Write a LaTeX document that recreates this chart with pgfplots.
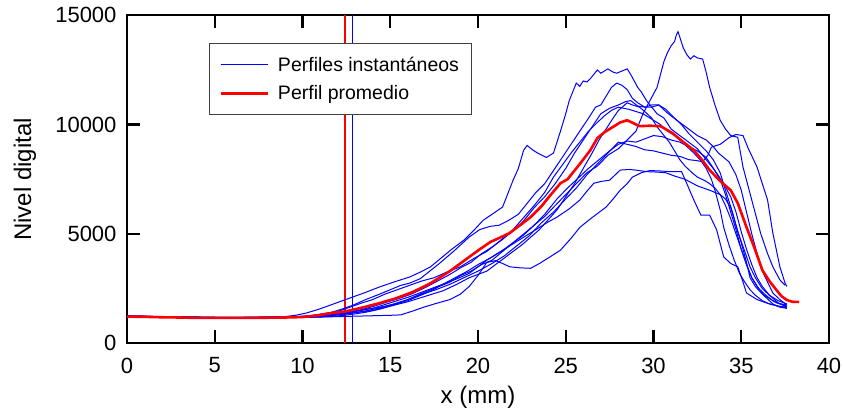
\documentclass[border=0pt]{standalone}
\usepackage{fontspec}
\setmainfont{Liberation Sans}
\usepackage{pgfplots}
\pgfplotsset{compat=1.18}
\definecolor{pblue}{RGB}{0,0,255}
\definecolor{pred}{RGB}{255,0,0}
\begin{document}
\begin{tikzpicture}
\begin{axis}[
  scale only axis, width=702pt, height=328pt,
  xmin=0, xmax=40, ymin=0, ymax=15000,
  xtick={0,5,...,40}, ytick={0,5000,10000,15000},
  tick align=inside, major tick length=13pt,
  axis line style={line width=2.4pt},
  every tick/.style={black, line width=2.4pt},
  tick label style={font=\fontsize{22}{26}\selectfont},
  /pgf/number format/assume math mode=true,
  /pgf/number format/set thousands separator={},
  scaled ticks=false,
  xticklabel style={yshift=-11pt},
  yticklabel style={xshift=-7pt},
  xlabel={x (mm)}, ylabel={Nivel digital},
  every axis x label/.style={at={(axis description cs:0.5,-0.1636)}, anchor=center, font=\fontsize{24}{28}\selectfont},
  every axis y label/.style={at={(axis description cs:-0.1453,0.5)}, anchor=center, rotate=90, font=\fontsize{24}{28}\selectfont},
  legend style={at={(axis description cs:0.1168,0.9147)}, anchor=north west,
    draw=black!75, line width=0.8pt, font=\fontsize{19.5}{23}\selectfont,
    cells={anchor=west}, inner xsep=10pt, inner ysep=11pt, row sep=9pt, column sep=7pt},
  legend image code/.code={\draw[#1] (0pt,0pt) -- (47pt,0pt);},
]
% vertical markers
\addplot[pred, line width=1.5pt, forget plot] coordinates {(12.42,0) (12.42,15000)};
\addplot[pblue, line width=1.5pt, forget plot] coordinates {(12.84,0) (12.84,15000)};

% P1 tall peak
\addplot[pblue, line width=1pt] coordinates {(0,1260)(0.8,1240)(1.6,1230)(2.5,1210)(3.3,1200)(4.2,1190)(5,1180)(5.8,1190)(6.7,1180)(7.5,1190)(8.3,1200)(9.2,1220)(10,1240)(10.7,1280)(11.4,1330)(12,1380)(12.7,1450)(13.3,1520)(14,1600)(14.6,1680)(15.3,1800)(16,1950)(16.6,2150)(17.2,2350)(17.8,2600)(18.4,2800)(19,3100)(19.6,3300)(20.2,3600)(20.8,3800)(21.4,4200)(22,4600)(22.6,5000)(23.2,5400)(23.8,5800)(24.4,6300)(25,6800)(25.6,7300)(26.2,7800)(26.8,8100)(27.4,8600)(28,8900)(28.5,9300)(29,9700)(29.4,10500)(29.8,11100)(30.2,11700)(30.4,12300)(30.6,12900)(30.8,13300)(31,13600)(31.2,13800)(31.3,14100)(31.4,14250)(31.5,14000)(31.7,13500)(31.9,13200)(32.1,13000)(32.3,13150)(32.5,13050)(32.8,13000)(33,12400)(33.2,11700)(33.5,10900)(33.8,10200)(34.1,9800)(34.4,9500)(34.8,9420)(35.1,8060)(35.6,6550)(36.1,5040)(36.5,4100)(36.8,3500)(37.2,2900)(37.5,2650)};
\addlegendentry{Perfiles instantáneos}

% P2
\addplot[pblue, line width=1pt, forget plot] coordinates {(0,1240)(0.8,1230)(1.6,1220)(2.5,1200)(3.3,1190)(4.2,1180)(5,1170)(5.8,1180)(6.7,1180)(7.5,1190)(8.3,1200)(9,1220)(9.6,1280)(10.2,1380)(10.9,1550)(11.6,1750)(12.7,2070)(13.5,2300)(14.4,2580)(15.2,2800)(16.1,3030)(16.7,3250)(17.3,3500)(17.9,3900)(18.5,4300)(19.2,4720)(19.8,5200)(20.3,5630)(20.8,5900)(21.4,6230)(22,7460)(22.3,8000)(22.6,8830)(22.8,9050)(23.1,8850)(23.4,8700)(23.9,8500)(24.3,8700)(24.7,9700)(25,10500)(25.2,11100)(25.6,11900)(25.8,11750)(26,12000)(26.2,11950)(26.4,12100)(26.6,12300)(26.8,12500)(27,12350)(27.2,12450)(27.4,12550)(27.7,12400)(27.9,12350)(28.2,12450)(28.5,12550)(28.7,12300)(28.9,12000)(29.1,11700)(29.3,11500)(29.6,11100)(30.2,10500)(30.6,10300)(31,9800)(31.5,9500)(32,9200)(32.5,8900)(33,8400)(33.4,8000)(33.8,7500)(34.1,6800)(34.4,6000)(34.7,5200)(35,4300)(35.3,3600)(35.6,3000)(36,2500)(36.4,2200)(36.8,1950)(37.2,1800)(37.6,1700)};

% P3
\addplot[pblue, line width=1pt, forget plot] coordinates {(0,1220)(0.8,1220)(1.6,1210)(2.5,1200)(3.3,1190)(4.2,1180)(5,1180)(5.8,1170)(6.7,1180)(7.5,1180)(8.3,1190)(9.2,1200)(10,1210)(10.8,1280)(11.6,1400)(12.3,1580)(12.9,1750)(13.6,2000)(14.4,2250)(15,2450)(15.6,2650)(16.1,2750)(16.7,2950)(17.8,3650)(18.6,4200)(19.5,4860)(20.1,5200)(20.7,5350)(21.2,5400)(21.7,5600)(22.3,5900)(22.8,6400)(23.3,6900)(23.8,7300)(24.3,7900)(24.8,8500)(25.3,9100)(25.8,9700)(26.3,10300)(26.7,10800)(27,10900)(27.3,11300)(27.6,11700)(27.9,11900)(28.2,11800)(28.5,11600)(28.8,11200)(29.1,11000)(29.5,10800)(29.9,10800)(30.3,10900)(30.7,10700)(31.2,10300)(31.6,10000)(32,9600)(32.5,9200)(33,8800)(33.4,8400)(33.8,7800)(34.1,7000)(34.5,6000)(34.8,5100)(35.2,4200)(35.5,3500)(35.8,3000)(36.2,2500)(36.6,2200)(37.1,1950)(37.6,1800)};

% P4
\addplot[pblue, line width=1pt, forget plot] coordinates {(0,1250)(0.8,1240)(1.6,1220)(2.5,1210)(3.3,1200)(4.2,1190)(5,1180)(5.8,1180)(6.7,1170)(7.5,1180)(8.3,1190)(9.2,1200)(10,1200)(10.8,1240)(11.6,1300)(12.4,1380)(13.2,1500)(14,1680)(14.8,1880)(15.5,2050)(16.2,2250)(17,2550)(17.7,2850)(18.4,3150)(19,3450)(19.6,3700)(20.2,4100)(20.8,4400)(21.4,4750)(22,5150)(22.6,5600)(23.2,6200)(23.8,6700)(24.4,7300)(25,8000)(25.5,8700)(26,9300)(26.5,9900)(27,10500)(27.5,10750)(28,10900)(28.4,11050)(28.7,11100)(29.1,10850)(29.5,10800)(29.9,10900)(30.3,10900)(30.7,10600)(31,10400)(31.5,10100)(32,9800)(32.5,9500)(33,9300)(33.4,9000)(33.7,8700)(34,8500)(34.3,8300)(34.7,7700)(35,7000)(35.3,6000)(35.6,5000)(35.9,4100)(36.2,3300)(36.5,2800)(36.8,2300)(37.2,2000)(37.6,1750)};

% P5
\addplot[pblue, line width=1pt, forget plot] coordinates {(0,1200)(0.8,1210)(1.6,1200)(2.5,1190)(3.3,1180)(4.2,1170)(5,1170)(5.8,1160)(6.7,1170)(7.5,1170)(8.3,1180)(9.2,1180)(10,1180)(11,1200)(12,1250)(12.8,1320)(13.6,1420)(14.4,1560)(15.2,1750)(16,2000)(16.7,2250)(17.4,2480)(18,2700)(18.7,3000)(19.4,3300)(20,3600)(20.7,3900)(21.4,4250)(22,4600)(22.6,4950)(23.2,5400)(23.8,5900)(24.5,6600)(25.1,7100)(25.7,7550)(26.3,8000)(26.9,8400)(27.5,8800)(28,9100)(28.5,9250)(29,9200)(29.5,9350)(30,9500)(30.5,9450)(31,9300)(31.5,9200)(32,9000)(32.5,8800)(33,8500)(33.5,7900)(34,7300)(34.4,6700)(34.7,6000)(35,5100)(35.3,4300)(35.6,3600)(35.9,3000)(36.2,2600)(36.6,2200)(37.1,1850)(37.6,1650)};

% P6
\addplot[pblue, line width=1pt, forget plot] coordinates {(0,1210)(0.8,1220)(1.6,1210)(2.5,1200)(3.3,1190)(4.2,1180)(5,1170)(5.8,1180)(6.7,1170)(7.5,1180)(8.3,1190)(9.2,1190)(10,1200)(11,1240)(12,1300)(12.8,1380)(13.6,1480)(14.4,1620)(15.2,1800)(16,2000)(16.8,2250)(17.6,2450)(18.4,2700)(19.2,3000)(20,3300)(20.8,3650)(21.5,4000)(22.2,4450)(22.9,4900)(23.6,5500)(24.3,6000)(25,6600)(25.6,7100)(26.2,7700)(26.8,8200)(27.4,8700)(28,9200)(28.5,9100)(29,9000)(29.5,8850)(30,8800)(30.5,8700)(31,8600)(31.5,8550)(32,8400)(32.5,8350)(32.8,8300)(33.1,8600)(33.3,8970)(33.8,9100)(34.3,9400)(34.7,9550)(35.1,9500)(35.4,8910)(35.9,8060)(36.2,7300)(36.5,6550)(36.8,5040)(37.2,3500)(37.5,2740)(37.6,2600)};

% P7
\addplot[pblue, line width=1pt, forget plot] coordinates {(0,1230)(0.8,1220)(1.6,1210)(2.5,1200)(3.3,1190)(4.2,1180)(5,1180)(5.8,1170)(6.7,1170)(7.5,1180)(8.3,1180)(9.2,1190)(10,1190)(11,1200)(12,1220)(13,1240)(14,1260)(15,1280)(15.6,1300)(16.3,1480)(16.9,1650)(17.6,1820)(18.4,2000)(19,2250)(19.5,2600)(20,3100)(20.5,3700)(21,3780)(21.4,3650)(21.8,3500)(22.4,3450)(23,3430)(23.5,3650)(24.1,3950)(24.7,4260)(25.3,4800)(25.8,5300)(26.5,5750)(27.3,6230)(27.7,6600)(28.1,7000)(28.5,7300)(28.8,7600)(29.3,7800)(29.8,7900)(30.4,7880)(31,7850)(31.6,7850)(31.9,7300)(32.3,6550)(32.7,5860)(33.2,5860)(33.6,5180)(34,3950)(34.4,3650)(34.8,3500)(35.1,2800)(35.3,2300)(35.9,2000)(36.5,1830)(37,1720)(37.4,1660)(37.6,1600)};

% P8
\addplot[pblue, line width=1pt, forget plot] coordinates {(0,1220)(0.8,1220)(1.6,1200)(2.5,1200)(3.3,1190)(4.2,1180)(5,1170)(5.8,1170)(6.7,1180)(7.5,1180)(8.3,1190)(9.2,1200)(10,1200)(11,1250)(12,1320)(13,1450)(14,1600)(15,1850)(16,2100)(17,2400)(18,2700)(18.8,2950)(19.5,3200)(20,3500)(20.5,3800)(21,4050)(21.5,4300)(22,4550)(22.5,4800)(23,5050)(23.5,5300)(24,5550)(24.5,5770)(25.2,6150)(25.8,6550)(26.2,6950)(26.6,7320)(27,7400)(27.5,7460)(28.1,7920)(28.6,7950)(29,7920)(29.6,7850)(30.2,7830)(30.7,7800)(31.2,7650)(31.8,7500)(32.5,7200)(33.2,7000)(33.8,6800)(34.1,6600)(34.4,6200)(34.7,5400)(35,4600)(35.3,3700)(35.5,3000)(35.8,2600)(36.2,2250)(36.8,1800)(37.2,1650)(37.6,1600)};

% P9
\addplot[pblue, line width=1pt, forget plot] coordinates {(0,1240)(0.8,1230)(1.6,1220)(2.5,1210)(3.3,1200)(4.2,1190)(5,1180)(5.8,1180)(6.7,1180)(7.5,1190)(8.3,1200)(9.2,1210)(10,1220)(10.6,1280)(11.2,1360)(12,1450)(12.7,1650)(13.4,1850)(14,2000)(14.7,2250)(15.4,2450)(16.1,2650)(16.8,2850)(17.5,3000)(18.2,3250)(19,3500)(19.7,3850)(20.5,4200)(21.2,4650)(22,5200)(22.6,5750)(23.2,6300)(23.8,6900)(24.3,7600)(24.8,8150)(25.3,8700)(25.8,9200)(26.3,9700)(26.8,10100)(27.2,10400)(27.6,10650)(28,10800)(28.3,10750)(28.6,10700)(29,10600)(29.4,10500)(30,10200)(30.4,10000)(30.8,9700)(31.2,9500)(31.5,9300)(31.9,9000)(32.3,8700)(32.7,8350)(33,8000)(33.3,7500)(33.5,7000)(33.8,6100)(34,5300)(34.3,4500)(34.6,3800)(34.9,3200)(35.2,2800)(35.5,2450)(35.8,2200)(36.2,1950)(36.6,1800)(37.1,1700)(37.6,1650)};

% P10
\addplot[pblue, line width=1pt, forget plot] coordinates {(0,1250)(0.8,1240)(1.6,1220)(2.5,1210)(3.3,1200)(4.2,1180)(5,1180)(5.8,1170)(6.7,1180)(7.5,1180)(8.3,1190)(9.2,1200)(10,1200)(11,1230)(12,1300)(13,1400)(14,1500)(15,1700)(16,1900)(17,2150)(18,2400)(18.8,2700)(19.5,3000)(20,3150)(20.5,3300)(21,3600)(21.5,3900)(22,4200)(22.5,4500)(23,4850)(23.5,5200)(24,5650)(24.5,6100)(25,6700)(25.5,7300)(26,8000)(26.5,8700)(26.9,9300)(27.3,9800)(27.7,10300)(28,10650)(28.5,11000)(28.8,10900)(29.2,10800)(29.5,10600)(29.9,10300)(30.2,9900)(30.5,9600)(30.9,9200)(31.2,8800)(31.5,8400)(31.8,8100)(32.2,7800)(32.5,7600)(32.9,7450)(33.2,7300)(33.5,7100)(33.8,6800)(34.1,6300)(34.4,5700)(34.7,5000)(35,4300)(35.3,3600)(35.6,3000)(35.9,2600)(36.3,2200)(36.7,2000)(37,1850)(37.3,1800)(37.6,1750)};

% mean profile
\addplot[pred, line width=2.6pt] coordinates {(0,1220)(1,1210)(2,1190)(3,1180)(4,1160)(5,1160)(6,1160)(7,1160)(8,1170)(9,1180)(10,1200)(11,1290)(11.6,1380)(12.4,1450)(13.5,1650)(14.4,1840)(15.3,2050)(16.3,2350)(17.3,2750)(18.4,3300)(19.5,3950)(20.1,4300)(20.7,4630)(21.3,4850)(21.8,5040)(22.4,5400)(23.0,5770)(23.6,6250)(24.1,6750)(24.7,7320)(25.1,7500)(25.8,8200)(26.4,8830)(26.8,9380)(27.2,9650)(27.7,9900)(28.1,10100)(28.5,10200)(28.9,10050)(29.2,9930)(29.8,9950)(30.4,9930)(31.1,9600)(31.7,9200)(32.3,8830)(32.8,8350)(33.2,7920)(33.8,7420)(34.4,7000)(34.8,6410)(35.3,5310)(35.8,4260)(36.2,3350)(36.6,2850)(37.0,2440)(37.3,2150)(37.6,1980)(37.9,1900)(38.3,1890)};
\addlegendentry{Perfil promedio}
\end{axis}
\pgfresetboundingbox
\path (current axis.south west) ++(-127pt,-68.7pt) rectangle ++(843pt,412pt);
\end{tikzpicture}
\end{document}
